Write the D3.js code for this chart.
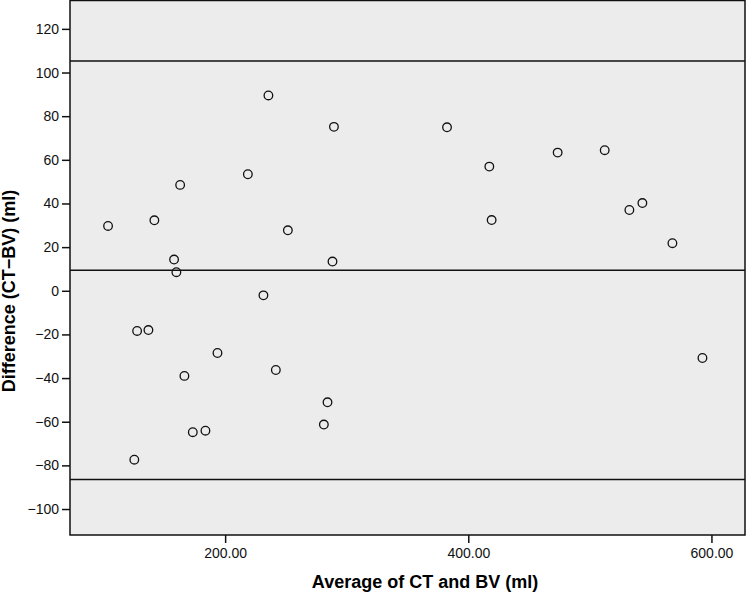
<!DOCTYPE html>
<html lang="en">
<head>
    <meta charset="UTF-8">
    <title>Bland-Altman</title>
    <style>
        body { margin: 0; background: #fff; }
        text { font-family: "Liberation Sans", Arial, sans-serif; }
    </style>
</head>
<body>
    <script src="https://cdn.jsdelivr.net/npm/d3@7"></script>
    <script>
        // average of CT and BV (ml)
        var avgVals = [103.7, 127.6, 136.9, 125.3, 141.8, 158, 159.9, 163, 166.5, 173.4,
            183.8, 193.7, 218.7, 231.5, 235.6, 241.7, 251.6, 281.2, 284.2, 289.5,
            288.3, 382.5, 417.3, 419.2, 473.5, 512.2, 532.5, 543.2, 567.9, 592.6];
        // difference CT-BV (ml)
        var diffVals = [29.7, -18.4, -18.0, -77.4, 32.3, 14.3, 8.5, 48.5, -39.0, -64.8,
            -64.1, -28.5, 53.4, -2.1, 89.5, -36.3, 27.7, -61.3, -51.1, 75.1,
            13.4, 74.9, 56.9, 32.4, 63.3, 64.4, 37.0, 40.2, 21.8, -30.8];
        // mean and limits of agreement
        var refLines = [105.3, 9.4, -86.5];
        var xTicks = [200, 400, 600];
        var yTicks = [-100, -80, -60, -40, -20, 0, 20, 40, 60, 80, 100, 120];

        var W = 747, H = 593;
        var mLeft = 70, mRight = 745, mTop = 0.5, mBottom = 535;

        var svg = d3.select('body').append('svg').attr('width', W).attr('height', H);

        var x = d3.scaleLinear().domain([72.4, 627.6]).range([mLeft, mRight]);
        var y = d3.scaleLinear().domain([-111.9, 133]).range([mBottom, mTop]);

        // plot background
        svg.append('rect').attr('x', mLeft).attr('y', mTop)
            .attr('width', mRight - mLeft).attr('height', mBottom - mTop)
            .attr('fill', '#ececec');

        // reference lines
        svg.selectAll('line.ref').data(refLines).enter().append('line')
            .attr('class', 'ref')
            .attr('x1', mLeft).attr('x2', mRight)
            .attr('y1', function (d) { return y(d); })
            .attr('y2', function (d) { return y(d); })
            .attr('stroke', '#111').attr('stroke-width', 1.5);

        // points
        svg.selectAll('circle').data(avgVals).enter().append('circle')
            .attr('cx', function (d) { return x(d); })
            .attr('cy', function (d, i) { return y(diffVals[i]); })
            .attr('r', 4.3)
            .attr('fill', 'none').attr('stroke', '#111').attr('stroke-width', 1.3);

        var fmtY = function (d) { return d < 0 ? '\u2212' + Math.abs(d) : String(d); };

        var yAxis = svg.append('g').attr('transform', 'translate(' + mLeft + ',0)')
            .call(d3.axisLeft(y).tickValues(yTicks).tickSize(8).tickPadding(3).tickFormat(fmtY));
        var xAxis = svg.append('g').attr('transform', 'translate(0,' + mBottom + ')')
            .call(d3.axisBottom(x).tickValues(xTicks).tickSize(8).tickPadding(5).tickFormat(d3.format('.2f')));

        [xAxis, yAxis].forEach(function (g) {
            g.select('.domain').remove();
            g.selectAll('line').attr('stroke', '#111').attr('stroke-width', 1.5);
            g.selectAll('text').attr('font-size', 14).attr('fill', '#111')
                .style('font-family', '"Liberation Sans", Arial, sans-serif');
        });

        // frame
        svg.append('rect').attr('x', mLeft).attr('y', mTop)
            .attr('width', mRight - mLeft).attr('height', mBottom - mTop)
            .attr('fill', 'none').attr('stroke', '#111').attr('stroke-width', 1.5);

        // titles
        svg.append('text').attr('x', 425).attr('y', 588)
            .attr('text-anchor', 'middle').attr('font-size', 18).attr('font-weight', 'bold')
            .text('Average of CT and BV (ml)');
        svg.append('text').attr('transform', 'translate(15,291) rotate(-90)')
            .attr('text-anchor', 'middle').attr('font-size', 18).attr('font-weight', 'bold')
            .text('Difference (CT\u2212BV) (ml)');
    </script>
</body>
</html>
